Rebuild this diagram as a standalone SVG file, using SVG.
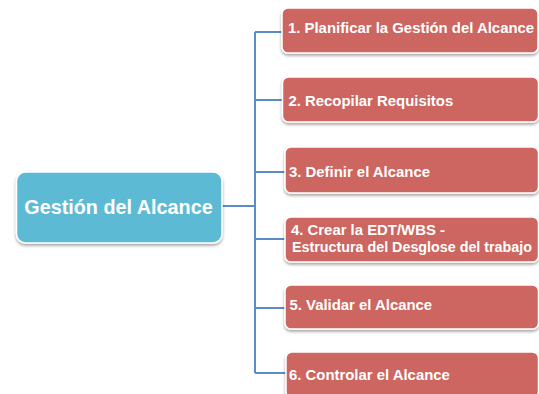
<svg xmlns="http://www.w3.org/2000/svg" width="539" height="394" viewBox="0 0 539 394">
  <defs>
    <filter id="sh" x="-10%" y="-20%" width="120%" height="150%">
      <feDropShadow dx="0" dy="2" stdDeviation="1.5" flood-color="#000" flood-opacity="0.35"/>
    </filter>
  </defs>
  <style>
    .conn { fill: none; stroke: #5A8CC8; stroke-width: 2; }
    .box { fill: #CD6660; stroke: #FFFFFF; stroke-width: 1.5; filter: url(#sh); }
    .root { fill: #5BBAD5; stroke: #FFFFFF; stroke-width: 1.5; filter: url(#sh); }
    .t { font-family: "Liberation Sans", Arial, sans-serif; font-weight: bold; fill: #FFFFFF; font-size: 14.9px; }
    .rt { font-family: "Liberation Sans", Arial, sans-serif; font-weight: bold; fill: #FFFFFF; font-size: 19.8px; }
  </style>
  <rect width="539" height="394" fill="#FFFFFF"/>
  <g id="connectors">
    <path class="conn" d="M222 206 H255"/>
    <path class="conn" d="M255 32 V373"/>
    <path class="conn" d="M255 32 H282"/>
    <path class="conn" d="M255 100 H282"/>
    <path class="conn" d="M255 172 H285"/>
    <path class="conn" d="M255 239 H285"/>
    <path class="conn" d="M255 308 H285"/>
    <path class="conn" d="M255 373 H286"/>
  </g>
  <g id="root">
    <rect class="root" x="16.5" y="172" width="205.5" height="71" rx="9"/>
    <text class="rt" x="118.5" y="214" text-anchor="middle">Gestión del Alcance</text>
  </g>
  <g id="n1">
    <rect class="box" x="282" y="8" width="256" height="45" rx="6"/>
    <text class="t" x="288" y="33">1. Planificar la Gestión del Alcance</text>
  </g>
  <g id="n2">
    <rect class="box" x="282.5" y="77" width="256" height="45" rx="6"/>
    <text class="t" x="288.5" y="106">2. Recopilar Requisitos</text>
  </g>
  <g id="n3">
    <rect class="box" x="285" y="147" width="253.5" height="46" rx="6"/>
    <text class="t" x="289" y="177">3. Definir el Alcance</text>
  </g>
  <g id="n4">
    <rect class="box" x="285" y="217" width="253.5" height="45" rx="6"/>
    <text class="t" x="291" y="235">4. Crear la EDT/WBS -</text>
    <text class="t" x="292" y="252" style="font-size:14.3px">Estructura del Desglose del trabajo</text>
  </g>
  <g id="n5">
    <rect class="box" x="285" y="285" width="253.5" height="44" rx="6"/>
    <text class="t" x="289.5" y="310">5. Validar el Alcance</text>
  </g>
  <g id="n6">
    <rect class="box" x="286" y="352" width="252.5" height="46" rx="6"/>
    <text class="t" x="289" y="380">6. Controlar el Alcance</text>
  </g>
</svg>
